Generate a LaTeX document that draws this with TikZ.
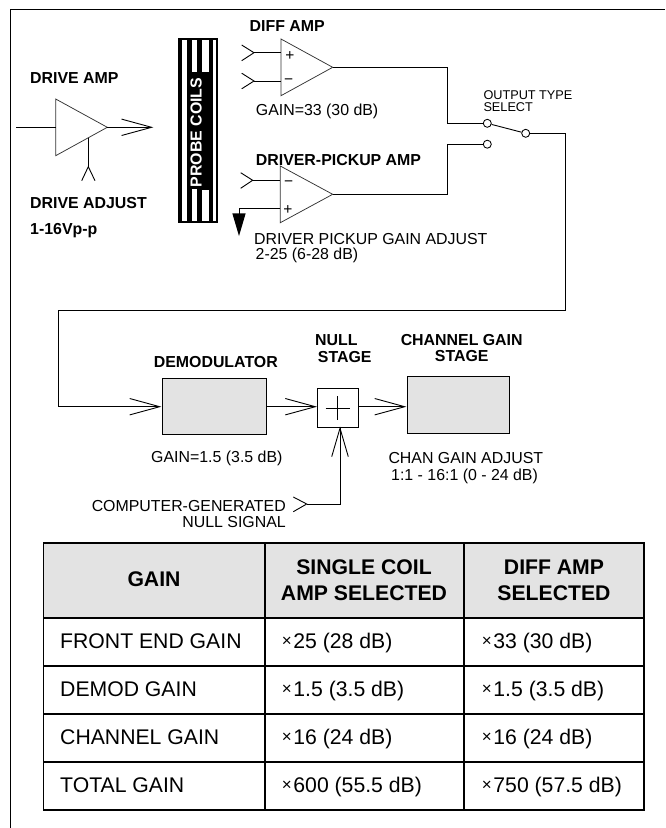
\documentclass[tikz,border=0pt]{standalone}
\usepackage{fontspec}
\setmainfont{Liberation Sans}
\usetikzlibrary{arrows.meta}
\tikzset{
  lbl/.style={anchor=base west,inner sep=0pt,font=\fontsize{15.9}{18}\selectfont},
  lblr/.style={lbl,anchor=base east},
  blbl/.style={lbl,font=\fontsize{15.9}{18}\bfseries\selectfont},
  blblc/.style={blbl,anchor=base},
  slbl/.style={lbl,font=\fontsize{12.7}{14}\selectfont},
  sign/.style={anchor=center,inner sep=0pt,font=\fontsize{15.5}{16}\selectfont},
  tcell/.style={lbl,font=\fontsize{21.2}{24}\selectfont},
  thead/.style={anchor=base,inner sep=0pt,font=\fontsize{21.2}{24}\bfseries\selectfont},
  wire/.style={draw=black,line width=0.9pt,line cap=butt,line join=miter},
  amp/.style={draw=black!80,line width=0.75pt,line join=miter},
  graybox/.style={draw=black,line width=0.85pt,fill=black!11,inner sep=0pt,anchor=north west},
  sumbox/.style={draw=black,line width=0.85pt,inner sep=0pt,anchor=north west},
  contact/.style={circle,draw=black,line width=0.85pt,fill=white,minimum size=8pt,inner sep=0pt},
  bigopen/.style={-{Straight Barb[length=30pt,width=16.4pt,line width=0.9pt]}},
  tline/.style={draw=black,line width=1.8pt},
}
\newcommand{\xx}{\raisebox{1.6pt}{\fontsize{17}{17}\selectfont ×}\kern1.6pt}
\begin{document}
\begin{tikzpicture}[x=1pt,y=-1pt]
\useasboundingbox (0,0) rectangle (665,828);
% frame
\draw[line width=0.9pt] (10.5,828) -- (10.5,9.3) -- (665,9.3);
% --- coordinates
\coordinate (dIn) at (16,127.3);
\coordinate (dA) at (55.7,99);
\coordinate (dB) at (55.7,155.7);
\coordinate (dC) at (107.3,127.3);
\coordinate (dInJ) at (55.7,127.3);
\coordinate (coilTip) at (153.3,127.3);
\coordinate (adjTop) at (88.3,137.5);
\coordinate (adjTip) at (88.3,166.7);
\coordinate (aA) at (281,39);
\coordinate (aB) at (281,95.7);
\coordinate (aC) at (332.7,67.3);
\coordinate (aP) at (281,52.7);
\coordinate (aM) at (281,81);
\coordinate (aPt) at (254,52.7);
\coordinate (aMt) at (254,81);
\coordinate (bA) at (280.3,166);
\coordinate (bB) at (280.3,222.7);
\coordinate (bC) at (332.7,194.3);
\coordinate (bM) at (280.3,180.3);
\coordinate (bP) at (280.3,208.3);
\coordinate (bMt) at (252.7,180.3);
\coordinate (bPc) at (239,208.3);
\coordinate (bPd) at (239,214);
% --- drive amp
\draw[amp] (dA) -- (dB) -- (dC) -- cycle;
\draw[wire] (dIn) -- (dInJ);
\draw[wire,bigopen] (dC) -- (coilTip);
\draw[wire] (adjTop) -- (adjTip);
\draw[wire] (81.7,180.7) -- (adjTip) -- (95,180.7);
% --- probe coils
\fill[black] (178,38) rectangle (218,222.7);
\fill[white] (182,39.5) rectangle (187,221.2);
\fill[white] (213,39.5) rectangle (216.4,221.2);
\fill[white] (192,39.5) rectangle (197,72);
\fill[white] (202,39.5) rectangle (208.8,72);
\fill[white] (192,189) rectangle (197,221.2);
\fill[white] (202,189.5) rectangle (208.8,221.2);
\node[blblc,rotate=90,text=white] (coils) at (201.6,132.5) {PROBE COILS};
% --- diff amp
\draw[amp] (aA) -- (aB) -- (aC) -- cycle;
\draw[wire] (aPt) -- (aP);
\draw[wire] (aMt) -- (aM);
\draw[wire] (241.7,45) -- (aPt) -- (241.7,60.7);
\draw[wire] (241.7,73.2) -- (aMt) -- (241.7,88.8);
\node[sign] (ap) at (290,56.5) {+};
\node[sign] (am) at (288.7,82) {−};
% --- driver amp
\draw[amp] (bA) -- (bB) -- (bC) -- cycle;
\draw[wire] (bMt) -- (bM);
\draw[wire] (240.7,172.7) -- (bMt) -- (240.7,188.3);
\draw[wire] (bP) -- (bPc) -- (bPd);
\fill[black] (232.3,213.3) -- (245.7,213.3) -- (239,236) -- cycle;
\node[sign] (bm) at (288.7,183.5) {−};
\node[sign] (bp) at (288,210) {+};
% --- switch
\node[contact] (s1) at (487.3,123.3) {};
\node[contact] (s2) at (487.3,144.2) {};
\node[contact] (s3) at (525.7,133.3) {};
\coordinate (out1) at (447.7,67.3);
\coordinate (out1b) at (447.7,123.3);
\coordinate (out2) at (447.7,194.3);
\coordinate (out2b) at (447.7,144.2);
\draw[wire] (aC) -- (out1) -- (out1b) -- (s1);
\draw[wire] (bC) -- (out2) -- (out2b) -- (s2);
\draw[wire] (s1) -- (s3);
% --- lower chain
\node[graybox,minimum width=103.4pt,minimum height=56pt] (demod) at (162.3,378.3) {};
\node[sumbox,minimum width=40.4pt,minimum height=39pt] (sum) at (317.3,388.3) {};
\node[graybox,minimum width=102.6pt,minimum height=57pt] (chan) at (406.7,376.3) {};
\coordinate (r1) at (565,133.3);
\coordinate (r2) at (565,310);
\coordinate (r3) at (58.3,310);
\coordinate (r4) at (58.3,406.7);
\coordinate (demodIn) at (162,406.7);
\draw[wire,bigopen,shorten >=0.6pt] (s3) -- (r1) -- (r2) -- (r3) -- (r4) -- (demodIn);
\draw[wire,bigopen] (demod.east |- 0,406.7) -- (317,406.7);
\draw[wire,bigopen] (sum.east |- 0,406.7) -- (406.4,406.7);
\draw[line width=0.75pt] (325.7,408.3) -- (349.7,408.3);
\draw[line width=0.75pt] (337.7,396.3) -- (337.7,420.3);
% --- null input
\coordinate (nTip) at (340,428.2);
\coordinate (nCorner) at (340,504);
\coordinate (nEnd) at (306.7,504);
\draw[wire] (nEnd) -- (nCorner) -- (nTip);
\draw[wire] (331.7,456.7) -- (nTip) -- (348.3,456.7);
\draw[wire] (293.3,497) -- (nEnd) -- (293.3,511.7);
% --- labels
\node[blbl] (t1) at (30,83) {DRIVE AMP};
\node[blbl] (t2) at (30,208) {DRIVE ADJUST};
\node[blbl] (t3) at (30,234.5) {1-16Vp-p};
\node[blbl] (t4) at (249.5,31.7) {DIFF AMP};
\node[lbl] (t5) at (255.7,115) {GAIN=33 (30 dB)};
\node[blbl] (t6) at (255.7,165) {DRIVER-PICKUP AMP};
\node[lbl] (t7) at (254,244) {DRIVER PICKUP GAIN ADJUST};
\node[lbl] (t8) at (255.5,259.3) {2-25 (6-28 dB)};
\node[slbl] (t9) at (483.3,99) {OUTPUT TYPE};
\node[slbl] (t10) at (483.3,111.7) {SELECT};
\node[blblc] (t11) at (215.8,367.7) {DEMODULATOR};
\node[blbl] (t12) at (315,345.7) {NULL};
\node[blbl] (t13) at (317.7,362.7) {STAGE};
\node[blblc] (t14) at (461.7,345) {CHANNEL GAIN};
\node[blblc] (t15) at (461.7,361) {STAGE};
\node[lbl] (t16) at (151,462.3) {GAIN=1.5 (3.5 dB)};
\node[lbl] (t17) at (388.3,463.3) {CHAN GAIN ADJUST};
\node[lbl] (t18) at (391,480) {1:1 - 16:1 (0 - 24 dB)};
\node[lblr] (t19) at (286,511.7) {COMPUTER-GENERATED};
\node[lblr] (t20) at (286,527.7) {NULL SIGNAL};
% --- table
\fill[black!11] (43.5,543) rectangle (644,618);
\draw[tline] (43.5,543) rectangle (644,810);
\draw[tline] (43.5,618) -- (644,618);
\draw[tline] (43.5,665.7) -- (644,665.7);
\draw[tline] (43.5,713.7) -- (644,713.7);
\draw[tline] (43.5,761.7) -- (644,761.7);
\draw[tline] (264.7,543) -- (264.7,810);
\draw[tline] (464.3,543) -- (464.3,810);
\node[thead] (h1) at (154,586.7) {GAIN};
\node[thead] (h2a) at (364,574) {SINGLE COIL};
\node[thead] (h2b) at (364,600) {AMP SELECTED};
\node[thead] (h3a) at (554,574) {DIFF AMP};
\node[thead] (h3b) at (554,600) {SELECTED};
\node[tcell] (c11) at (60,648.3) {FRONT END GAIN};
\node[tcell] (c12) at (281.7,648.3) {\xx25 (28 dB)};
\node[tcell] (c13) at (481.7,648.3) {\xx33 (30 dB)};
\node[tcell] (c21) at (60,696) {DEMOD GAIN};
\node[tcell] (c22) at (281.7,696) {\xx1.5 (3.5 dB)};
\node[tcell] (c23) at (481.7,696) {\xx1.5 (3.5 dB)};
\node[tcell] (c31) at (60,744) {CHANNEL GAIN};
\node[tcell] (c32) at (281.7,744) {\xx16 (24 dB)};
\node[tcell] (c33) at (481.7,744) {\xx16 (24 dB)};
\node[tcell] (c41) at (60,792.3) {TOTAL GAIN};
\node[tcell] (c42) at (281.7,792.3) {\xx600 (55.5 dB)};
\node[tcell] (c43) at (481.7,792.3) {\xx750 (57.5 dB)};
\end{tikzpicture}
\end{document}
